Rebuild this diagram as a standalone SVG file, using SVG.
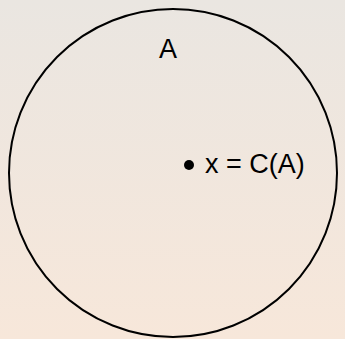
<svg xmlns="http://www.w3.org/2000/svg" width="345" height="339" viewBox="0 0 345 339">
<defs>
<linearGradient id="bg" x1="0" y1="0" x2="0" y2="1">
<stop offset="0" stop-color="#EAE6E1"/>
<stop offset="1" stop-color="#F7E7DA"/>
</linearGradient>
<style>
.lbl{font-family:"Liberation Sans",Arial,sans-serif;font-size:27px;fill:#000}
</style>
</defs>
<rect x="0" y="0" width="345" height="339" fill="url(#bg)"/>
<g id="setA">
<circle cx="173" cy="173" r="164" fill="none" stroke="#000" stroke-width="2"/>
<text class="lbl" x="168" y="58" text-anchor="middle">A</text>
</g>
<g id="pointX">
<circle cx="189" cy="165" r="5" fill="#000"/>
<text class="lbl" x="205" y="173">x = C(A)</text>
</g>
<g id="connectors"/>
</svg>
